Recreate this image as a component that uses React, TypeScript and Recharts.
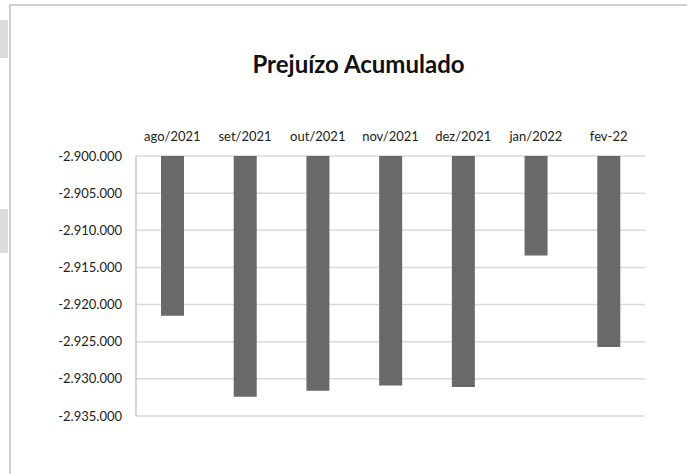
import { Bar, BarChart, CartesianGrid, XAxis, YAxis } from "recharts";

const months = ["ago/2021", "set/2021", "out/2021", "nov/2021", "dez/2021", "jan/2022", "fev-22"];
const prejuizo = [-2921500, -2932400, -2931600, -2930900, -2931100, -2913400, -2925700];
const yTicks = [-2900000, -2905000, -2910000, -2915000, -2920000, -2925000, -2930000, -2935000];

const data = months.map((month, i) => ({ month, value: prejuizo[i] }));

const fontFamily = "Lato, 'Open Sans', sans-serif";

function formatBR(v: number) {
  const sign = v < 0 ? "-" : "";
  const digits = String(Math.abs(Math.round(v)));
  return sign + digits.replace(/\B(?=(\d{3})+(?!\d))/g, ".");
}

export default function App() {
  return (
    <div style={{ position: "absolute", left: 0, top: 0, width: 687, height: 474, background: "#fff" }}>
      {/* side marks and chart frame */}
      <div style={{ position: "absolute", left: 0, top: 20, width: 8, height: 38, background: "#dcdcdc" }} />
      <div style={{ position: "absolute", left: 0, top: 209, width: 8, height: 44, background: "#dcdcdc" }} />
      <div
        style={{
          position: "absolute",
          left: 9,
          top: 4,
          right: 0,
          bottom: 0,
          borderTop: "2px solid #cfcfcf",
          borderLeft: "2px solid #cfcfcf",
        }}
      />
      <div
        style={{
          position: "absolute",
          left: 0,
          width: 687,
          top: 49,
          textAlign: "center",
          paddingLeft: 30,
          boxSizing: "border-box",
          fontFamily,
          fontWeight: 700,
          fontSize: 24,
          color: "#111",
        }}
      >
        Prejuízo Acumulado
      </div>
      <BarChart
        width={687}
        height={474}
        data={data}
        margin={{ top: 126, right: 42, bottom: 58, left: 0 }}
        style={{ position: "absolute", left: 0, top: 0 }}
      >
        <CartesianGrid horizontal vertical={false} stroke="#d9d9d9" strokeWidth={1.5} />
        <XAxis
          dataKey="month"
          orientation="top"
          height={30}
          axisLine={false}
          tickLine={false}
          tickMargin={9}
          interval={0}
          tick={{ fill: "#222", fontSize: 13, fontFamily }}
        />
        <YAxis
          type="number"
          domain={[-2935000, -2900000]}
          ticks={yTicks}
          width={136}
          interval={0}
          axisLine={{ stroke: "#c8c8c8", strokeWidth: 1.5 }}
          tickLine={false}
          tickMargin={8}
          tickFormatter={formatBR}
          tick={{ fill: "#222", fontSize: 13, fontFamily }}
        />
        <Bar dataKey="value" fill="#696969" barSize={23} isAnimationActive={false} />
      </BarChart>
    </div>
  );
}
